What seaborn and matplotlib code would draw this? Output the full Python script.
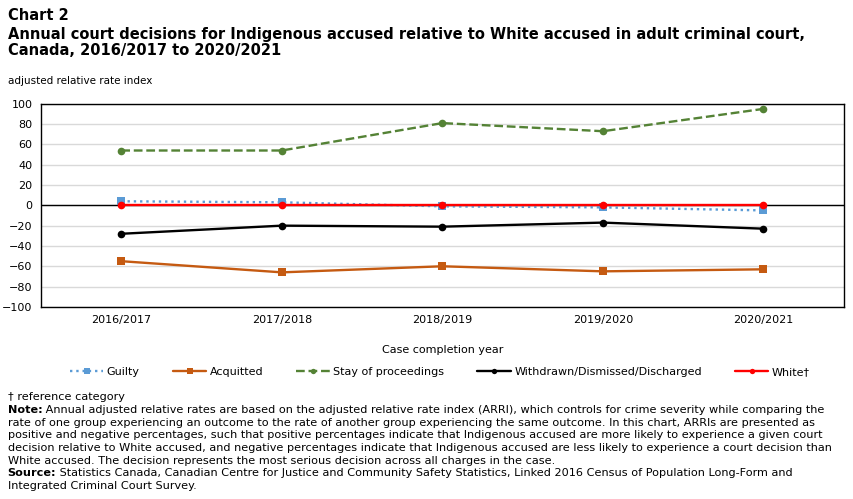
import pandas as pd
import seaborn as sns
import matplotlib.pyplot as plt

# Data
years = ["2016/2017", "2017/2018", "2018/2019", "2019/2020", "2020/2021"]
guilty = [4, 3, -1, -2, -5]
acquitted = [-55, -66, -60, -65, -63]
stay = [54, 54, 81, 73, 95]
withdrawn = [-28, -20, -21, -17, -23]
white = [0, 0, 0, 0, 0]

series = [
    ("Guilty", guilty, "#5b9bd5", ":", "s"),
    ("Acquitted", acquitted, "#c55a11", "-", "s"),
    ("Stay of proceedings", stay, "#548235", "--", "o"),
    ("Withdrawn/Dismissed/Discharged", withdrawn, "#000000", "-", "o"),
    ("White\u2020", white, "#ff0000", "-", "o"),
]

sns.set_style("white")
plt.rcParams["font.family"] = ["DejaVu Sans"]
plt.rcParams["text.color"] = "black"
plt.rcParams["xtick.color"] = "black"
plt.rcParams["ytick.color"] = "black"
plt.rcParams["axes.labelcolor"] = "black"

fig = plt.figure(figsize=(8.54, 4.99), dpi=100)
ax = fig.add_axes([0.048, 0.385, 0.94, 0.407])

pos = list(range(len(years)))
for name, vals, color, ls, mk in series:
    df = pd.DataFrame({"x": pos, "y": vals})
    sns.lineplot(data=df, x="x", y="y", ax=ax, color=color, linestyle=ls,
                 marker=mk, markersize=5.5, markeredgewidth=0, linewidth=1.7,
                 label=name, legend=False)

ax.set_xlim(-0.5, len(years) - 0.5)
ax.set_ylim(-100, 100)
ax.set_yticks(range(-100, 101, 20))
ax.set_xticks(pos)
ax.set_xticklabels(years)
ax.tick_params(axis="both", labelsize=8, length=0, pad=6)
ax.yaxis.grid(True, color="#d9d9d9", linewidth=1)
ax.set_axisbelow(True)
ax.axhline(0, color="black", linewidth=1, zorder=1)
for s in ax.spines.values():
    s.set_color("black")
    s.set_linewidth(1)
ax.set_xlabel("Case completion year", fontsize=8, labelpad=14)
ax.set_ylabel("")

handles, labels = ax.get_legend_handles_labels()
fig.legend(handles, labels, loc="center", bbox_to_anchor=(0.515, 0.254), ncol=5,
           frameon=False, fontsize=8, handlelength=3.0, handletextpad=0.3,
           columnspacing=3.0, markerscale=0.7)

fig.text(0.009, 0.968, "Chart 2", fontsize=10.5, fontweight="bold", va="center")
fig.text(0.009, 0.930, "Annual court decisions for Indigenous accused relative to White accused in adult criminal court,",
         fontsize=10.5, fontweight="bold", va="center")
fig.text(0.009, 0.898, "Canada, 2016/2017 to 2020/2021", fontsize=10.5, fontweight="bold", va="center")
fig.text(0.009, 0.838, "adjusted relative rate index", fontsize=7.5, va="center")

notes = [
    (0.204, [("\u2020 reference category", "normal")]),
    (0.178, [("Note:", "bold"), (" Annual adjusted relative rates are based on the adjusted relative rate index (ARRI), which controls for crime severity while comparing the", "normal")]),
    (0.153, [("rate of one group experiencing an outcome to the rate of another group experiencing the same outcome. In this chart, ARRIs are presented as", "normal")]),
    (0.128, [("positive and negative percentages, such that positive percentages indicate that Indigenous accused are more likely to experience a given court", "normal")]),
    (0.103, [("decision relative to White accused, and negative percentages indicate that Indigenous accused are less likely to experience a court decision than", "normal")]),
    (0.077, [("White accused. The decision represents the most serious decision across all charges in the case.", "normal")]),
    (0.052, [("Source:", "bold"), (" Statistics Canada, Canadian Centre for Justice and Community Safety Statistics, Linked 2016 Census of Population Long-Form and", "normal")]),
    (0.027, [("Integrated Criminal Court Survey.", "normal")]),
]

fig.canvas.draw()
renderer = fig.canvas.get_renderer()
for y, parts in notes:
    x = 0.009
    for txt, w in parts:
        t = fig.text(x, y, txt, fontsize=8.1, fontweight=w, va="center")
        bb = t.get_window_extent(renderer=renderer)
        x += bb.width / fig.bbox.width

fig.savefig("out.png", dpi=100)
